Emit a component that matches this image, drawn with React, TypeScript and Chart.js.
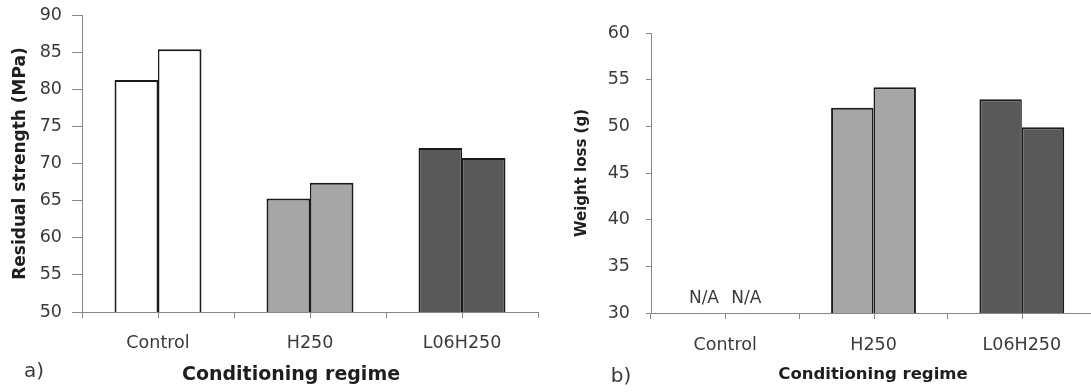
import React, { useEffect, useRef } from 'react';
import Chart from 'chart.js/auto';

// ---- data ----
const categories = ['Control', 'H250', 'L06H250'];
const strengthRep1: (number | null)[] = [81.25, 65.3, 72.1];
const strengthRep2: (number | null)[] = [85.4, 67.4, 70.75];
const weightRep1: (number | null)[] = [null, 52.0, 52.9];
const weightRep2: (number | null)[] = [null, 54.2, 49.9];
const categoryColors = ['#ffffff', '#a6a6a6', '#595959'];
const strengthRange = [50, 90];
const weightRange = [30, 60];
const tickStep = 5;

const FONT = '"DejaVu Sans", Verdana, sans-serif';
const axisGrey = '#868686';
const textDark = '#3a3a3a';

const panelPlugin = {
  id: 'panelText',
  afterDraw(chart: any, _args: any, o: any) {
    const ctx = chart.ctx;
    const xs = chart.scales.x;
    const area = chart.chartArea;
    ctx.save();
    ctx.strokeStyle = axisGrey;
    ctx.lineWidth = 1;
    for (let i = 0; i < xs.ticks.length; i++) {
      const px = Math.round(xs.getPixelForTick(i)) + 0.5;
      ctx.beginPath();
      ctx.moveTo(px, area.bottom);
      ctx.lineTo(px, area.bottom + 6);
      ctx.stroke();
    }
    ctx.fillStyle = '#1e1e1e';
    ctx.textAlign = 'center';
    ctx.textBaseline = 'middle';
    ctx.font = `bold ${o.xTitleSize}px ${FONT}`;
    ctx.fillText(o.xTitle, o.xTitleX, o.xTitleY);
    ctx.fillStyle = textDark;
    ctx.font = `${o.panelSize}px ${FONT}`;
    ctx.fillText(o.panelLabel, o.panelX, o.panelY);
    if (o.naText) {
      ctx.font = `17px ${FONT}`;
      chart.data.datasets.forEach((ds: any, di: number) => {
        const meta = chart.getDatasetMeta(di);
        ds.data.forEach((v: any, i: number) => {
          if (v === null) {
            const el = meta.data[i];
            const x = el && isFinite(el.x) ? el.x : xs.getPixelForValue(i);
            ctx.fillText(o.naText, x, area.bottom - 14);
          }
        });
      });
    }
    ctx.restore();
  },
};

function makeConfig(p: any): any {
  const common = {
    backgroundColor: categoryColors,
    borderColor: '#1a1a1a',
    categoryPercentage: 0.572,
    barPercentage: 1,
    inflateAmount: 0,
  };
  return {
    type: 'bar',
    data: {
      labels: categories,
      datasets: [
        { ...common, data: p.d1, borderWidth: { top: 2, left: 2, right: 1.5, bottom: 0 } },
        { ...common, data: p.d2, borderWidth: { top: 2, left: 1.5, right: 2, bottom: 0 } },
      ],
    },
    options: {
      responsive: false,
      animation: false,
      devicePixelRatio: 1,
      layout: { padding: { top: p.padTop, right: p.padRight, left: 0, bottom: 0 } },
      plugins: {
        legend: { display: false },
        tooltip: { enabled: false },
        panelText: p.text,
      },
      scales: {
        x: {
          afterFit: (s: any) => { s.height = p.xHeight; },
          grid: { offset: true, drawOnChartArea: false, drawTicks: true, tickLength: 6, color: axisGrey },
          border: { color: axisGrey, width: 1 },
          ticks: { color: textDark, font: { family: FONT, size: 17.5 }, padding: p.xTickPad, maxRotation: 0 },
        },
        y: {
          min: p.min,
          max: p.max,
          afterFit: (s: any) => {
            s.width = p.yWidth;
            s.paddingTop = 0;
            s.paddingBottom = 0;
          },
          grid: { drawOnChartArea: false, drawTicks: true, tickLength: p.yTickLen, color: axisGrey },
          border: { color: axisGrey, width: 1 },
          ticks: { stepSize: tickStep, color: textDark, font: { family: FONT, size: 17.5 }, padding: p.yTickPad },
          title: {
            display: true,
            text: p.yTitle,
            color: '#1e1e1e',
            font: { family: FONT, size: p.yTitleSize, weight: 'bold' },
            padding: { top: p.yTitlePad, bottom: 0 },
          },
        },
      },
    },
    plugins: [panelPlugin],
  };
}

function Panel(props: { cfg: any; left: number; width: number }) {
  const ref = useRef<HTMLCanvasElement>(null);
  useEffect(() => {
    const chart = new Chart(ref.current as HTMLCanvasElement, props.cfg);
    return () => chart.destroy();
  }, []);
  return (
    <canvas
      ref={ref}
      width={props.width}
      height={392}
      style={{ position: 'absolute', left: props.left, top: 0, width: props.width, height: 392 }}
    />
  );
}

export default function App() {
  const leftCfg = makeConfig({
    d1: strengthRep1,
    d2: strengthRep2,
    min: strengthRange[0],
    max: strengthRange[1],
    padTop: 15,
    padRight: 7,
    xHeight: 80,
    yWidth: 82,
    yTickLen: 10,
    yTickPad: 10,
    xTickPad: 15,
    yTitle: 'Residual strength (MPa)',
    yTitleSize: 17,
    yTitlePad: 10,
    text: {
      xTitle: 'Conditioning regime',
      xTitleSize: 19,
      xTitleX: 291,
      xTitleY: 375,
      panelLabel: 'a)',
      panelSize: 20,
      panelX: 34,
      panelY: 372,
    },
  });
  const rightCfg = makeConfig({
    d1: weightRep1,
    d2: weightRep2,
    min: weightRange[0],
    max: weightRange[1],
    padTop: 33,
    padRight: 10,
    xHeight: 79,
    yWidth: 91,
    yTickLen: 5,
    yTickPad: 16,
    xTickPad: 16,
    yTitle: 'Weight loss (g)',
    yTitleSize: 15,
    yTitlePad: 13,
    text: {
      xTitle: 'Conditioning regime',
      xTitleSize: 16.5,
      xTitleX: 313,
      xTitleY: 375,
      panelLabel: 'b)',
      panelSize: 20,
      panelX: 61,
      panelY: 377,
      naText: 'N/A',
    },
  });
  return (
    <div
      style={{
        position: 'fixed',
        left: 0,
        top: 0,
        width: 1091,
        height: 392,
        overflow: 'hidden',
        background: '#ffffff',
      }}
    >
      <Panel cfg={leftCfg} left={0} width={545} />
      <Panel cfg={rightCfg} left={560} width={546} />
    </div>
  );
}
